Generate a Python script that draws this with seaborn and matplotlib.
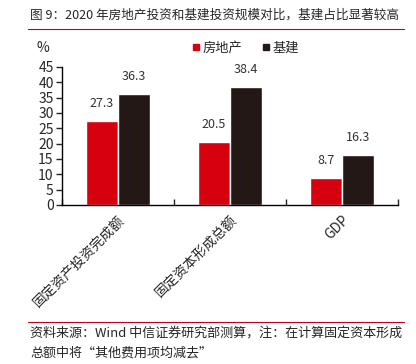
import pandas as pd
import numpy as np
import matplotlib.pyplot as plt
import seaborn as sns
from matplotlib.lines import Line2D

sns.set_style("ticks")
plt.rcParams['font.family'] = ['Noto Sans CJK SC', 'DejaVu Sans']

categories = ['固定资产投资完成额', '固定资本形成总额', 'GDP']
series = ['房地产', '基建']
real_estate = [27.3, 20.5, 8.7]
infrastructure = [36.3, 38.4, 16.3]
colors = ['#d7000f', '#231815']

df = pd.DataFrame({
    'cat': categories * 2,
    'type': [series[0]] * 3 + [series[1]] * 3,
    'value': real_estate + infrastructure,
})

fig = plt.figure(figsize=(4.16, 3.64), dpi=100)
ax = fig.add_axes([0.149, 0.437, 0.808, 0.379])

sns.barplot(data=df, x='cat', y='value', hue='type', palette=colors,
            width=0.57, saturation=1, ax=ax, legend=False)

for cont in ax.containers:
    ax.bar_label(cont, fmt='%.1f', padding=8, fontsize=9, color='#333333')

ax.set_ylim(0, 45)
ax.set_yticks(range(0, 46, 5))
ax.set_xlim(-0.5, 2.5)
ax.set_xticks([0, 1, 2])
ax.set_xticklabels(categories, rotation=45, ha='right', rotation_mode='anchor',
                   fontsize=9.8)
ax.tick_params(axis='x', length=0, pad=6)
ax.set_xticks([-0.5, 0.5, 1.5, 2.5], minor=True)
ax.tick_params(axis='x', which='minor', direction='in', length=4, width=1)
ax.tick_params(axis='y', direction='out', length=4, width=1, labelsize=10, pad=2)
ax.set_xlabel('')
ax.set_ylabel('')
sns.despine(ax=ax)
for s in ['left', 'bottom']:
    ax.spines[s].set_linewidth(1)
    ax.spines[s].set_color('black')

# "%" unit label and legend
fig.text(0.088, 0.868, '%', fontsize=10, va='center')
handles = [Line2D([0], [0], marker='s', linestyle='', markersize=5,
                  color=c) for c in colors]
fig.legend(handles, series, loc='center left', bbox_to_anchor=(0.43, 0.868),
           ncol=2, frameon=False, fontsize=9.5, handletextpad=0.1,
           columnspacing=1.4, handlelength=0.8)

# title and rules
fig.text(0.072, 0.958, '图 9：2020 年房地产投资和基建投资规模对比，基建占比显著较高',
         fontsize=9.1, va='center')
fig.add_artist(Line2D([0.067, 0.97], [0.92, 0.92], color='#c0001a', lw=0.8))
fig.add_artist(Line2D([0.067, 0.97], [0.115, 0.115], color='#c0001a', lw=0.8))
fig.text(0.072, 0.085, '资料来源：Wind 中信证券研究部测算，注：在计算固定资本形成',
         fontsize=9.4, va='center')
fig.text(0.072, 0.03, '总额中将“其他费用项均减去”', fontsize=9.4, va='center')

fig.savefig('out.png', dpi=100)
